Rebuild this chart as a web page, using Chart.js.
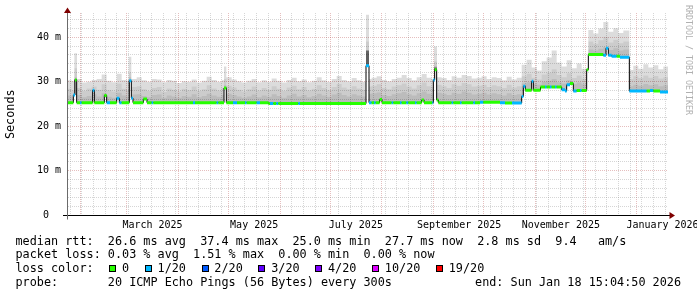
<!DOCTYPE html>
<html>
<head>
<meta charset="utf-8">
<script src="https://cdn.jsdelivr.net/npm/chart.js@4.4.1/dist/chart.umd.min.js"></script>
<style>
  html, body { margin: 0; padding: 0; background: #fff; }
  canvas { display: block; }
</style>
</head>
<body>
<canvas id="grafico" width="697" height="297"></canvas>
<script>
// x values are days since 1 Jan 2025 (Jan 1 2026 = 365)
const startDay = 23.2;
const endDay = 383.8;

// smoke columns: each one starts at its day and lasts until the next one (ms)
const smokeDays = [
  23, 26, 27.6, 29.2,
  32, 35, 38, 41, 44, 47, 50, 53, 56, 59,
  60.2, 61.8,
  65, 68, 71, 74, 77, 80, 83, 86, 89, 92, 95, 98, 101, 104, 107, 110, 113, 116,
  117.4, 118.8,
  122, 125, 128, 131, 134, 137, 140, 143, 146, 149, 152, 155, 158, 161, 164, 167, 170, 173, 176, 179, 182, 185, 188, 191, 194, 197, 200,
  202.6, 204.4,
  206, 209, 212, 215, 218, 221, 224, 227, 230, 233, 236, 239, 242,
  243.4, 245.2,
  248, 251, 254, 257, 260, 263, 266, 269, 272, 275, 278, 281, 284, 287, 290, 293,
  296, 299, 302, 305, 308, 311, 314, 317, 320, 323, 326, 329, 332,
  336, 339, 342, 345, 348, 351, 354, 357,
  360.6, 363, 366, 369, 372, 375, 378, 381
];
const smokeTop = [
  30.3, 30.1, 36.4, 30.6,
  29.8, 30.0, 30.4, 30.6, 31.6, 30.2, 29.9, 31.8, 30.4, 30.2,
  35.6, 30.6,
  31.0, 30.3, 30.0, 30.6, 30.5, 29.9, 30.4, 30.2, 29.7, 30.1, 30.0, 30.5, 29.8, 30.2, 31.1, 30.4, 30.0, 30.3,
  33.4, 31.0,
  30.5, 30.1, 29.8, 30.2, 30.6, 29.9, 30.3, 30.0, 30.7, 30.2, 29.8, 30.4, 30.9, 30.1, 30.5, 29.9, 30.2, 31.0, 30.3, 30.0, 30.6, 31.3, 30.4, 30.1, 30.8, 30.3, 30.0,
  45.0, 30.6,
  30.9, 31.2, 30.4, 30.1, 30.6, 30.9, 31.5, 30.8, 30.3, 31.0, 31.7, 30.9, 30.6,
  37.9, 31.0,
  30.8, 30.4, 31.2, 30.9, 31.5, 31.3, 30.7, 30.9, 31.2, 30.6, 31.0, 30.8, 30.3, 31.1, 30.5, 30.9,
  33.8, 34.9, 33.2, 32.5, 34.6, 35.4, 37.0, 34.3, 33.4, 34.8, 33.0, 34.1, 32.9,
  41.6, 40.8, 41.9, 43.4, 41.2, 42.0, 40.9, 41.5,
  32.6, 33.6, 32.9, 33.9, 33.2, 33.7, 32.8, 33.4
];
const smokeMid = [
  28.4, 28.0, 33.0, 28.6,
  27.9, 28.5, 28.9, 28.2, 29.4, 28.1, 27.8, 29.6, 28.4, 28.0,
  32.0, 28.8,
  29.0, 28.3, 27.9, 28.6, 28.8, 27.7, 28.5, 28.2, 27.8, 28.4, 28.1, 28.9, 27.9, 28.3, 29.2, 28.5, 28.0, 28.6,
  30.6, 29.1,
  28.7, 28.2, 27.8, 28.3, 28.9, 28.0, 28.6, 28.2, 29.0, 28.4, 27.9, 28.7, 29.1, 28.3, 28.8, 28.0, 28.4, 29.2, 28.6, 28.1, 28.8, 29.5, 28.7, 28.3, 29.0, 28.5, 28.2,
  39.0, 28.9,
  29.1, 29.4, 28.6, 28.3, 28.9, 29.2, 29.6, 28.9, 28.5, 29.2, 29.8, 29.0, 28.8,
  34.5, 29.3,
  29.0, 28.6, 29.4, 29.1, 29.7, 29.4, 28.9, 29.1, 29.3, 28.8, 29.2, 29.0, 28.6, 29.3, 28.7, 29.0,
  31.2, 31.8, 30.9, 30.5, 31.6, 32.0, 32.8, 31.5, 31.0, 31.9, 30.8, 31.4, 30.7,
  39.0, 38.5, 39.3, 40.1, 38.8, 39.4, 38.6, 39.0,
  30.6, 31.2, 30.8, 31.4, 30.9, 31.3, 30.7, 31.0
];
const smokeDark = [
  26.9, 26.6, 31.0, 27.0,
  26.5, 26.8, 27.2, 26.7, 27.4, 26.6, 26.4, 27.5, 26.9, 26.6,
  31.0, 27.1,
  27.2, 26.8, 26.5, 27.0, 27.1, 26.4, 26.9, 26.7, 26.4, 26.8, 26.6, 27.2, 26.5, 26.8, 27.3, 26.9, 26.6, 27.0,
  29.2, 27.3,
  27.0, 26.7, 26.4, 26.7, 27.1, 26.5, 26.9, 26.6, 27.2, 26.8, 26.4, 26.9, 27.3, 26.7, 27.0, 26.5, 26.8, 27.3, 26.9, 26.6, 27.1, 27.5, 27.0, 26.7, 27.2, 26.9, 26.7,
  36.5, 27.3,
  27.4, 27.6, 27.0, 26.8, 27.2, 27.4, 27.7, 27.2, 26.9, 27.4, 27.8, 27.3, 27.1,
  33.5, 27.5,
  27.3, 27.0, 27.5, 27.3, 27.8, 27.5, 27.1, 27.3, 27.5, 27.1, 27.4, 27.2, 26.9, 27.4, 27.0, 27.2,
  29.6, 29.9, 29.5, 29.3, 30.0, 30.2, 30.6, 29.9, 29.6, 30.3, 29.5, 29.8, 29.4,
  37.2, 37.0, 37.4, 37.8, 37.1, 37.5, 37.0, 37.2,
  29.0, 29.3, 29.1, 29.5, 29.2, 29.4, 29.0, 29.2
];
// dense core of the smoke on the spikes (0 = none)
const coreDays = [23, 27.6, 29.2, 60.2, 61.8, 117.4, 118.8, 202.6, 204.4, 243.4, 245.2];
const coreTop = [0, 30.6, 0, 30.4, 0, 28.8, 0, 37.0, 0, 33.2, 0];

// median rtt steps (ms) and lost pings out of 20
const medDays = [
  23, 27, 28, 29, 31, 32, 38.6, 39.6, 45.6, 47,
  49, 53, 54.6, 56, 60.6, 61.8, 62.8, 69, 71.2, 74,
  75, 98.8, 100, 113, 114, 117.4, 118.8, 122.8, 125.2, 130,
  131, 137, 139, 144, 145, 147, 148.8, 150, 162, 163,
  202.6, 204.4, 206, 207.4, 208.4, 210.8, 212.2, 218, 219, 223,
  224, 226.8, 228, 232, 233, 236, 237.4, 242.4, 243, 243.8,
  245, 246, 254, 255, 259, 260, 267, 268, 271, 273,
  283, 286, 290.2, 296, 297, 298.2, 302, 303, 307.3, 310,
  311, 313, 314, 316, 317, 320, 322, 323, 325, 327,
  329, 331, 332, 335, 336, 345, 346.6, 348, 350, 353,
  355, 360.6, 371, 373, 375, 379
];
const medVals = [
  25.3, 27.0, 30.4, 25.3, 25.3, 25.3, 28.1, 25.3, 26.9, 25.3,
  25.3, 26.3, 25.3, 25.3, 30.2, 26.3, 25.3, 26.1, 25.3, 25.3,
  25.3, 25.3, 25.3, 25.3, 25.3, 28.6, 25.3, 25.3, 25.3, 25.3,
  25.3, 25.3, 25.3, 25.1, 25.1, 25.1, 25.1, 25.1, 25.1, 25.1,
  33.6, 25.3, 25.3, 25.3, 25.3, 26.0, 25.3, 25.3, 25.3, 25.3,
  25.3, 25.3, 25.3, 25.3, 25.3, 25.9, 25.3, 25.3, 30.4, 32.7,
  25.9, 25.3, 25.3, 25.3, 25.3, 25.3, 25.3, 25.3, 25.4, 25.4,
  25.3, 25.2, 25.2, 26.7, 29.0, 28.1, 30.1, 28.1, 28.8, 28.8,
  28.8, 28.8, 28.8, 28.8, 28.8, 28.2, 27.9, 29.3, 29.6, 27.9,
  28.0, 28.0, 28.0, 32.7, 36.1, 35.9, 37.5, 35.9, 35.7, 35.7,
  35.5, 27.9, 27.9, 28.0, 27.9, 27.7
];
const medLoss = [
  0, 1, 0, 0, 1, 0, 1, 0, 0, 1,
  0, 1, 1, 0, 1, 1, 0, 0, 0, 1,
  0, 1, 0, 1, 0, 0, 0, 1, 0, 1,
  0, 1, 0, 0, 1, 0, 1, 0, 1, 0,
  1, 1, 0, 1, 0, 0, 0, 1, 0, 1,
  0, 1, 0, 1, 0, 0, 0, 1, 1, 0,
  0, 0, 1, 0, 1, 0, 1, 0, 1, 0,
  1, 0, 1, 1, 1, 0, 1, 0, 0, 1,
  0, 1, 0, 1, 0, 1, 1, 1, 0, 1,
  0, 1, 0, 0, 0, 1, 1, 1, 1, 0,
  1, 1, 0, 1, 0, 1
];

// axes
const monthDays = [31, 59, 90, 120, 151, 181, 212, 243, 273, 304, 334, 365];
const weekDays = [25, 32, 39, 46, 53, 60, 67, 74, 81, 88, 95, 102, 109, 116, 123, 130, 137, 144, 151, 158,
  165, 172, 179, 186, 193, 200, 207, 214, 221, 228, 235, 242, 249, 256, 263, 270, 277, 284, 291, 298,
  305, 312, 319, 326, 333, 340, 347, 354, 361, 368, 375, 382];
const monthLabelDays = [74.5, 135.5, 196.5, 258.5, 319.5, 380.5];
const monthLabels = ['March 2025', 'May 2025', 'July 2025', 'September 2025', 'November 2025', 'January 2026'];
const yMax = 45.4;
const yGrid = [0, 2, 4, 6, 8, 10, 12, 14, 16, 18, 20, 22, 24, 26, 28, 30, 32, 34, 36, 38, 40, 42, 44];
const yLabelVals = [0, 10, 20, 30, 40];
const yLabels = ['0  ', '10 m', '20 m', '30 m', '40 m'];

// loss colours
const lossSteps = [0, 1, 2, 3, 4, 10, 19];
const lossNames = ['0', '1/20', '2/20', '3/20', '4/20', '10/20', '19/20'];
const lossColors = ['#26ff00', '#00b8ff', '#0059ff', '#5e00ff', '#7e00ff', '#dd00ff', '#ff0000'];

const legendLines = [
  'median rtt:  26.6 ms avg  37.4 ms max  25.0 ms min  27.7 ms now  2.8 ms sd  9.4   am/s',
  'packet loss: 0.03 % avg  1.51 % max  0.00 % min  0.00 % now',
  'loss color:  ',
  'probe:       20 ICMP Echo Pings (56 Bytes) every 300s'
];
const endText = 'end: Sun Jan 18 15:04:50 2026';
const watermark = 'RRDTOOL / TOBI OETIKER';

const MAJOR = 'rgba(170,40,40,0.3)';
const MINOR = 'rgba(120,120,120,0.3)';
const NONE = 'rgba(0,0,0,0)';

function lossColor(n) {
  let c = lossColors[0];
  lossSteps.forEach((s, i) => { if (n >= s) c = lossColors[i]; });
  return c;
}

// stepped series: the last value is held until the end of the graph
function steps(days, vals) {
  const pts = days.map((d, i) => ({ x: d, y: vals[i] }));
  pts.push({ x: endDay, y: vals[vals.length - 1] });
  return pts;
}

// one horizontal piece per step, so the colour can follow the loss
function pieces(days, vals) {
  const pts = [];
  days.forEach((d, i) => {
    const end = i < days.length - 1 ? days[i + 1] : endDay;
    pts.push({ x: d, y: vals[i] }, { x: end, y: vals[i] });
  });
  return pts;
}

function smoke(label, days, vals, colour, order) {
  return {
    label: label,
    data: steps(days, vals),
    stepped: true,
    borderWidth: 0,
    borderColor: NONE,
    pointRadius: 0,
    fill: { target: 0, above: colour, below: NONE },
    order: order,
    clip: 0
  };
}

const monthSet = new Set(monthDays);
const labelSet = new Set(monthLabelDays);
const xTicks = Array.from(new Set([...weekDays, ...monthDays, ...monthLabelDays])).sort((a, b) => a - b);

Chart.defaults.font.family = "'DejaVu Sans Mono', monospace";
Chart.defaults.color = '#000';

const decoration = {
  id: 'decoration',
  afterDraw(chart) {
    const ctx = chart.ctx;
    const area = chart.chartArea;
    ctx.save();

    // small axis extensions
    ctx.lineWidth = 1;
    ctx.strokeStyle = '#000';
    ctx.beginPath();
    ctx.moveTo(area.left - 4, 215.5);
    ctx.lineTo(area.left, 215.5);
    ctx.moveTo(area.right, 215.5);
    ctx.lineTo(area.right + 2, 215.5);
    ctx.stroke();
    ctx.strokeStyle = '#6b6b6b';
    ctx.beginPath();
    ctx.moveTo(67.5, area.bottom);
    ctx.lineTo(67.5, area.bottom + 4);
    ctx.stroke();

    // arrows
    ctx.fillStyle = '#7f0000';
    ctx.beginPath();
    ctx.moveTo(67.5, 7.5);
    ctx.lineTo(64, 13);
    ctx.lineTo(71, 13);
    ctx.closePath();
    ctx.fill();
    ctx.beginPath();
    ctx.moveTo(675, 215.5);
    ctx.lineTo(669.5, 212);
    ctx.lineTo(669.5, 219);
    ctx.closePath();
    ctx.fill();

    // watermark
    ctx.save();
    ctx.translate(688.5, 60);
    ctx.rotate(Math.PI / 2);
    ctx.font = "8.3px 'DejaVu Sans Mono'";
    ctx.fillStyle = '#b0b0b0';
    ctx.textAlign = 'center';
    ctx.textBaseline = 'middle';
    ctx.fillText(watermark, 0, 0);
    ctx.restore();

    // legend
    ctx.font = "11.8px 'DejaVu Sans Mono'";
    ctx.fillStyle = '#000';
    ctx.textAlign = 'left';
    ctx.textBaseline = 'alphabetic';
    const x0 = 15.5;
    const cw = ctx.measureText('0').width;
    const base = [244.5, 258.3, 272.1, 285.9];
    legendLines.forEach((t, i) => ctx.fillText(t, x0, base[i]));

    let col = legendLines[2].length;
    lossNames.forEach((name, i) => {
      const bx = Math.round(x0 + col * cw + 1.5);
      ctx.fillStyle = lossColors[i];
      ctx.fillRect(bx, 265, 7, 7);
      ctx.strokeStyle = '#000';
      ctx.strokeRect(bx + 0.5, 265.5, 6, 6);
      ctx.fillStyle = '#000';
      ctx.fillText(name, x0 + (col + 2) * cw, base[2]);
      col += name.length + 4;
    });

    ctx.textAlign = 'right';
    ctx.fillText(endText, 681, base[3]);
    ctx.restore();
  }
};

new Chart(document.getElementById('grafico'), {
  type: 'line',
  data: {
    datasets: [
      {
        label: 'median',
        data: steps(medDays, medVals),
        stepped: true,
        borderColor: '#000',
        borderWidth: 1,
        pointRadius: 0,
        fill: false,
        order: 1,
        clip: 0
      },
      smoke('smoke', smokeDays, smokeTop, 'rgba(0,0,0,0.137)', 5),
      smoke('smoke mid', smokeDays, smokeMid, 'rgba(0,0,0,0.073)', 4),
      smoke('smoke dark', smokeDays, smokeDark, 'rgba(0,0,0,0.083)', 3),
      smoke('smoke core', coreDays, coreTop, 'rgba(0,0,0,0.5)', 2),
      {
        label: 'median loss',
        data: pieces(medDays, medVals),
        borderWidth: 3,
        borderCapStyle: 'butt',
        pointRadius: 0,
        fill: false,
        order: 0,
        clip: 0,
        segment: {
          borderColor: c => c.p0DataIndex % 2 === 0 ? lossColor(medLoss[c.p0DataIndex / 2]) : NONE
        }
      }
    ]
  },
  options: {
    responsive: false,
    animation: false,
    devicePixelRatio: 1,
    events: [],
    layout: { padding: { left: 0, right: 29, top: 13, bottom: 0 } },
    plugins: { legend: { display: false }, tooltip: { enabled: false } },
    scales: {
      x: {
        type: 'linear',
        min: startDay,
        max: endDay,
        afterBuildTicks: s => { s.ticks = xTicks.map(v => ({ value: v })); },
        afterFit: s => { s.height = 81.5; },
        grid: {
          color: c => {
            if (!c.tick) return MINOR;
            if (labelSet.has(c.tick.value)) return NONE;
            return monthSet.has(c.tick.value) ? MAJOR : MINOR;
          },
          lineWidth: 1,
          drawTicks: false
        },
        border: { display: true, color: '#000', width: 1, dash: [1, 1], z: 1 },
        ticks: {
          autoSkip: false,
          maxRotation: 0,
          minRotation: 0,
          padding: 4,
          font: { size: 10 },
          callback: v => {
            const i = monthLabelDays.indexOf(v);
            return i >= 0 ? monthLabels[i] : '';
          }
        }
      },
      y: {
        min: 0,
        max: yMax,
        afterBuildTicks: s => { s.ticks = yGrid.map(v => ({ value: v })); },
        afterFit: s => { s.width = 67; },
        grid: {
          color: c => (c.tick && c.tick.value % 10 === 0) ? MAJOR : MINOR,
          lineWidth: 1,
          drawTicks: false
        },
        border: { display: true, color: '#6b6b6b', width: 1, dash: [1, 1], z: 1 },
        ticks: {
          autoSkip: false,
          padding: 6,
          font: { size: 10 },
          callback: v => {
            const i = yLabelVals.indexOf(v);
            return i >= 0 ? yLabels[i] : '';
          }
        },
        title: {
          display: true,
          text: 'Seconds',
          font: { size: 11.8 },
          padding: { top: 4, bottom: 0 }
        }
      }
    }
  },
  plugins: [decoration]
});
</script>
</body>
</html>
